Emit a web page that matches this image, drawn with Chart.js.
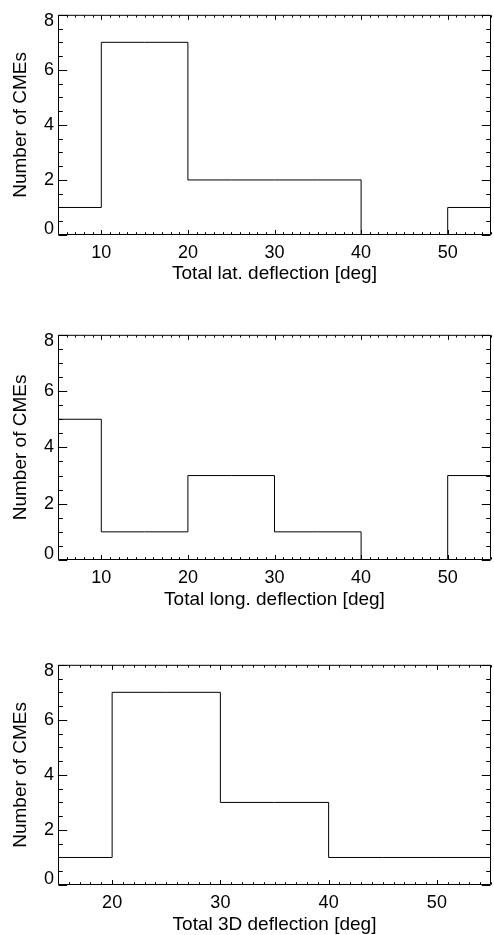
<!DOCTYPE html>
<html><head><meta charset="utf-8">
<script src="https://cdn.jsdelivr.net/npm/chart.js@4.4.1/dist/chart.umd.min.js"></script>
<style>
html,body{margin:0;padding:0;background:#fff;width:494px;height:935px;overflow:hidden;position:relative}
canvas{position:absolute;left:0;display:block}
</style></head><body>
<canvas id="c1" width="494" height="290" style="top:0px"></canvas>
<canvas id="c2" width="494" height="295" style="top:320px"></canvas>
<canvas id="c3" width="494" height="290" style="top:650px"></canvas>
<script>
// ---- data ----
const yTicks = [0, 2, 4, 6, 8];
const yTitle = 'Number of CMEs';

const latCenters = [5, 15, 25, 35, 45, 55];
const latCounts  = [1, 7, 2, 2, 0, 1];
const latTicks   = [10, 20, 30, 40, 50];
const latRange   = [5, 55];
const latTitle   = 'Total lat. deflection [deg]';

const lonCenters = [5, 15, 25, 35, 45, 55];
const lonCounts  = [5, 1, 3, 1, 0, 3];
const lonTicks   = [10, 20, 30, 40, 50];
const lonRange   = [5, 55];
const lonTitle   = 'Total long. deflection [deg]';

const d3Centers  = [15, 25, 35, 45, 55];
const d3Counts   = [1, 7, 3, 1, 1];
const d3Ticks    = [20, 30, 40, 50];
const d3Range    = [15, 55];
const d3Title    = 'Total 3D deflection [deg]';

const FONT = '"Liberation Sans", Arial, Helvetica, sans-serif';

const frameTicks = {
  id: 'frameTicks',
  beforeDraw(chart) {
    const ys = chart.scales.y;
    const items = ys.getLabelItems(chart.chartArea);
    items.forEach(it => {
      if (it.label === String(yTicks[0])) it.options.translation[1] -= 5.5;
      if (it.label === String(yTicks[yTicks.length - 1])) it.options.translation[1] += 6.5;
    });
  },
  afterDraw(chart) {
    const {ctx, chartArea: a, scales: {x, y}} = chart;
    ctx.save();
    ctx.strokeStyle = '#000';
    ctx.lineWidth = 1;
    const L = a.left + 0.5, R = a.right - 0.5, T = a.top + 0.5, B = a.bottom - 0.5;
    ctx.beginPath();
    ctx.rect(L, T, R - L, B - T);
    // x ticks (inward, bottom and top)
    for (let v = Math.ceil(x.min); v <= x.max + 1e-9; v += 1) {
      const px = Math.round(x.getPixelForValue(v)) + 0.5;
      const len = (v % 10 === 0) ? 4.5 : 2.3;
      ctx.moveTo(px, B); ctx.lineTo(px, B - len);
      ctx.moveTo(px, T); ctx.lineTo(px, T + len);
    }
    // y ticks (inward, left and right)
    for (let v = y.min; v <= y.max + 1e-9; v += 0.5) {
      const py = Math.round(y.getPixelForValue(v)) + 0.5;
      const len = (v % 2 === 0) ? 8.7 : 4.3;
      ctx.moveTo(L, py); ctx.lineTo(L + len, py);
      ctx.moveTo(R, py); ctx.lineTo(R - len, py);
    }
    ctx.stroke();
    ctx.restore();
  }
};

function makeChart(id, centers, counts, ticks, range, title, padTop, titlePad) {
  return new Chart(document.getElementById(id), {
    type: 'line',
    data: {
      datasets: [{
        data: centers.map((c, i) => ({x: c, y: counts[i]})),
        stepped: 'middle',
        borderColor: '#000',
        borderWidth: 1,
        pointRadius: 0,
        fill: false
      }]
    },
    options: {
      responsive: false,
      animation: false,
      events: [],
      layout: {padding: {top: padTop, left: 0, right: 3, bottom: 0}},
      plugins: {legend: {display: false}, tooltip: {enabled: false}},
      scales: {
        x: {
          type: 'linear', min: range[0], max: range[1],
          afterFit(s) { s.height = 55; },
          afterBuildTicks(s) { s.ticks = ticks.map(v => ({value: v})); },
          grid: {display: false, drawTicks: false},
          border: {display: false},
          ticks: {padding: 7, color: '#000', font: {family: FONT, size: 18}, maxRotation: 0, autoSkip: false},
          title: {display: true, text: title, color: '#000', font: {family: FONT, size: 19}, padding: {top: 0, bottom: titlePad}}
        },
        y: {
          type: 'linear', min: yTicks[0], max: yTicks[yTicks.length - 1],
          afterFit(s) { s.width = 58; },
          afterBuildTicks(s) { s.ticks = yTicks.map(v => ({value: v})); },
          grid: {display: false, drawTicks: false},
          border: {display: false},
          ticks: {padding: 4, color: '#000', font: {family: FONT, size: 18}, autoSkip: false},
          title: {display: true, text: yTitle, color: '#000', font: {family: FONT, size: 19}, padding: {top: 9, bottom: 0}}
        }
      }
    },
    plugins: [frameTicks]
  });
}

makeChart('c1', latCenters, latCounts, latTicks, latRange, latTitle, 7, 5.3);
makeChart('c2', lonCenters, lonCounts, lonTicks, lonRange, lonTitle, 13, 4.3);
makeChart('c3', d3Centers, d3Counts, d3Ticks, d3Range, d3Title, 9, 3.6);
</script>
</body></html>
